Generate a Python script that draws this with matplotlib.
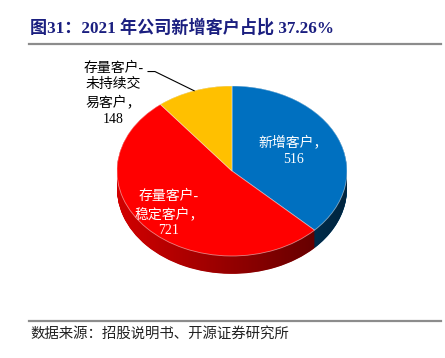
import numpy as np
import matplotlib
matplotlib.use("Agg")
import matplotlib.pyplot as plt
from matplotlib.path import Path
from matplotlib.patches import PathPatch

plt.rcParams['font.family'] = ['Liberation Serif', 'Noto Sans CJK SC', 'DejaVu Sans']

title = "图31：2021 年公司新增客户占比 37.26%"
source = "数据来源：招股说明书、开源证券研究所"
categories = ["新增客户", "存量客户-稳定客户", "存量客户-未持续交易客户"]
label_texts = ["新增客户，\n516", "存量客户-\n稳定客户，\n721", "存量客户-\n未持续交\n易客户，\n148"]
values = [516, 721, 148]
top_colors = ["#0070C0", "#FF0000", "#FFC000"]
side_colors = ["#005A99", "#D20000", "#B08400"]

W, H = 445, 358
fig = plt.figure(figsize=(W / 100, H / 100), dpi=100)

# header / footer
fig.text(30 / W, 1 - 28 / H, title, fontsize=12.3, fontweight='bold', color='#1b1f80',
         va='center', ha='left')
fig.add_artist(plt.Line2D([29 / W, 441 / W], [1 - 44 / H, 1 - 44 / H], color='#8c8c8c', lw=1.6))
fig.add_artist(plt.Line2D([29 / W, 441 / W], [1 - 321 / H, 1 - 321 / H], color='#8c8c8c', lw=1.6))
fig.text(30 / W, 1 - 334 / H, source, fontsize=10.4, color='#222222', va='center', ha='left')

# pie axes (squashed to look like a tilted pie)
ax = fig.add_axes([0.2112, 0.1425, 0.6202, 0.6648])
depth = 0.21
for d in np.linspace(depth, 0.0, 40):
    ax.pie(values, colors=side_colors, startangle=90, counterclock=False,
           center=(0, -d), radius=1, wedgeprops=dict(linewidth=0))

# darkening gradient across the side wall
th = np.linspace(np.pi, 2 * np.pi, 200)
verts = np.column_stack([np.cos(th), np.sin(th) - depth])
verts = np.vstack([verts, [[1, 0], [-1, 0], [np.cos(th[0]), np.sin(th[0]) - depth]]])
clip = PathPatch(Path(verts, closed=True), transform=ax.transData, facecolor='none', edgecolor='none')
ax.add_patch(clip)
grad = np.zeros((2, 256, 4))
grad[..., 3] = np.linspace(0.0, 0.6, 256)[None, :]
im = ax.imshow(grad, extent=(-1, 1, -1 - depth, 0), origin='lower', aspect='auto',
               interpolation='bilinear', zorder=1.5)
im.set_clip_path(clip)

wedges, _ = ax.pie(values, colors=top_colors, startangle=90, counterclock=False,
                   center=(0, 0), radius=1,
                   wedgeprops=dict(linewidth=0.6, edgecolor='#ffffff80', zorder=2))
ax.set_aspect('auto')
ax.set_xlim(-1.2, 1.2)
ax.set_ylim(-1.6, 1.2)
ax.axis('off')

def mid(w):
    return np.deg2rad((w.theta1 + w.theta2) / 2)

# inside labels
for i, r, dy in [(0, 0.58, 0.01), (1, 0.74, -0.005)]:
    a = mid(wedges[i])
    ax.text(r * np.cos(a), r * np.sin(a) + dy, label_texts[i], ha='center', va='center',
            color='white', fontsize=10, linespacing=1.35, zorder=3)

# outside label with leader line
a = mid(wedges[2])
ex, ey = np.cos(a), np.sin(a)
ax.plot([ex, -0.67, -0.73], [ey, 1.17, 1.17], color='black', lw=0.8, clip_on=False, zorder=3)
ax.text(-1.03, 0.91, label_texts[2], ha='center', va='center', color='black',
        fontsize=10, linespacing=1.35, zorder=3)

fig.savefig("out.png", dpi=100)
